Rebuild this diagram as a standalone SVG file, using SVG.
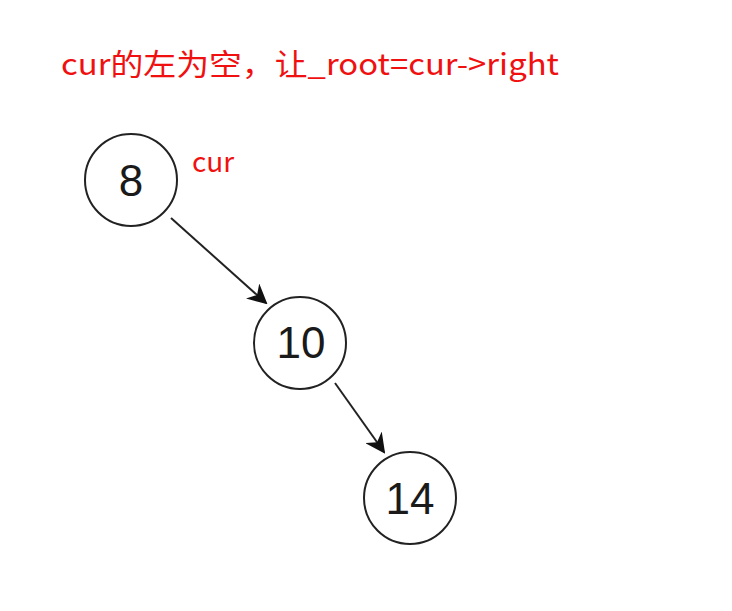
<svg xmlns="http://www.w3.org/2000/svg" width="732" height="611" viewBox="0 0 732 611">
<style>
.node circle{fill:#fff;stroke:#222;stroke-width:2}
.node text{font-family:"Liberation Sans",Arial,sans-serif;font-size:44px;fill:#1a1a1a;text-anchor:middle}
.lbl{font-family:"Noto Sans CJK SC","Microsoft YaHei",sans-serif;fill:#f01010}
</style>
<defs>
<marker id="ah2" viewBox="0 0 10 10" refX="9" refY="5" markerWidth="20" markerHeight="20" markerUnits="userSpaceOnUse" orient="auto">
<path d="M0,0 L10,5 L0,10 L3,5 Z" fill="#111"/>
</marker>
</defs>
<rect width="732" height="611" fill="#fff"/>
<text class="lbl" x="61" y="75" font-size="30" textLength="498" lengthAdjust="spacingAndGlyphs">cur的左为空，让_root=cur-&gt;right</text>
<text class="lbl" x="192" y="172" font-size="28">cur</text>
<g id="connectors">
<line x1="171" y1="218" x2="266" y2="303" stroke="#222" stroke-width="2" marker-end="url(#ah2)"/>
<line x1="335" y1="383" x2="384" y2="452" stroke="#222" stroke-width="2" marker-end="url(#ah2)"/>
</g>
<g id="node8" class="node"><circle cx="131" cy="180" r="46"/><text x="131" y="196">8</text></g>
<g id="node10" class="node"><circle cx="300" cy="343" r="46"/><text x="301" y="358">10</text></g>
<g id="node14" class="node"><circle cx="410" cy="498" r="46"/><text x="410" y="514">14</text></g>
</svg>
